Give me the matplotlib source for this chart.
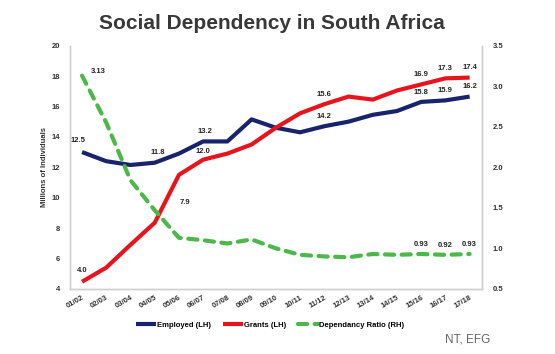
import matplotlib.pyplot as plt
import numpy as np

years = ['01/02', '02/03', '03/04', '04/05', '05/06', '06/07', '07/08', '08/09', '09/10',
         '10/11', '11/12', '12/13', '13/14', '14/15', '15/16', '16/17', '17/18']
employed = [13.0, 12.4, 12.15, 12.3, 12.9, 13.7, 13.7, 15.15, 14.6,
            14.3, 14.7, 15.0, 15.45, 15.7, 16.3, 16.4, 16.65]
grants = [4.47, 5.4, 6.9, 8.35, 11.5, 12.5, 12.9, 13.5, 14.6,
          15.55, 16.15, 16.65, 16.45, 17.05, 17.45, 17.85, 17.9]
ratio = [3.13, 2.55, 1.84, 1.47, 1.13, 1.10, 1.06, 1.11, 1.0,
         0.92, 0.90, 0.89, 0.93, 0.92, 0.93, 0.92, 0.93]

# (index, text, dx, dy) offsets in points
employed_labels = [(0, '12.5', -3, 8), (3, '11.8', 2, 7), (6, '13.2', -16, 7),
                   (10, '14.2', 0, 7), (14, '15.8', 0, 7), (15, '15.9', 0, 7), (16, '16.2', 0, 7)]
grants_labels = [(0, '4.0', 0, 8), (4, '7.9', 4, -20), (5, '12.0', 0, 6),
                 (10, '15.6', 0, 7), (14, '16.9', 0, 7), (15, '17.3', 0, 7), (16, '17.4', 0, 7)]
ratio_labels = [(0, '3.13', 12, 3), (14, '0.93', 0, 7), (15, '0.92', 0, 7), (16, '0.93', 0, 7)]

navy = '#17246b'
red = '#e8141c'
green = '#4cb849'
tick_color = '#333333'

fig = plt.figure(figsize=(5.55, 3.54), dpi=100)
ax = fig.add_axes([0.126, 0.184, 0.742, 0.687])
ax2 = ax.twinx()

x = np.arange(len(years))
l1, = ax.plot(x, employed, color=navy, lw=3.0, solid_capstyle='butt', label='Employed (LH)')
l2, = ax.plot(x, grants, color=red, lw=3.0, solid_capstyle='butt', label='Grants (LH)')
l3, = ax2.plot(x, ratio, color=green, lw=3.0, dashes=(2.2, 1.8), dash_capstyle='round',
               label='Dependancy Ratio (RH)')

lab_font = dict(fontsize=5.5, fontweight='bold', color='#222222', ha='center', va='center',
                family='Liberation Sans')
for i, t, dx, dy in employed_labels:
    ax.annotate(t, (x[i], employed[i]), xytext=(dx, dy), textcoords='offset points', **lab_font)
for i, t, dx, dy in grants_labels:
    ax.annotate(t, (x[i], grants[i]), xytext=(dx, dy), textcoords='offset points', **lab_font)
for i, t, dx, dy in ratio_labels:
    ax2.annotate(t, (x[i], ratio[i]), xytext=(dx, dy), textcoords='offset points', **lab_font)

ax.set_xlim(-0.5, len(years) - 0.5)
ax.set_ylim(4, 20)
ax.set_yticks(np.arange(4, 21, 2))
ax2.set_ylim(0.5, 3.5)
ax2.set_yticks(np.arange(0.5, 3.6, 0.5))
ax2.set_yticklabels(['%.1f' % v for v in np.arange(0.5, 3.6, 0.5)])

ax.set_xticks(x)
ax.set_xticklabels(years, rotation=30, ha='right', rotation_mode='anchor')

for a in (ax, ax2):
    a.tick_params(length=0, labelsize=5.5, labelcolor=tick_color)
    for lab in a.get_xticklabels() + a.get_yticklabels():
        lab.set_fontweight('bold')
        lab.set_family('Liberation Sans')
    a.spines['top'].set_visible(False)
    for s in ('left', 'right', 'bottom'):
        a.spines[s].set_color('#d0d0d0')
        a.spines[s].set_linewidth(1.0)
ax.tick_params(axis='x', pad=4)
ax.tick_params(axis='y', pad=7)
ax2.tick_params(axis='y', pad=8)

ax.set_ylabel('Millions of Individuals', fontsize=5.5, fontweight='bold', color=tick_color,
              family='Liberation Sans', labelpad=3)

fig.text(0.49, 0.935, 'Social Dependency in South Africa', ha='center', va='center',
         fontsize=15, fontweight='bold', color='#383838', family='Liberation Sans')

leg = fig.legend(handles=[l1, l2, l3], loc='center', bbox_to_anchor=(0.487, 0.082), ncol=3,
                 frameon=False, handlelength=2.6, handletextpad=0.1, columnspacing=1.6,
                 prop=dict(family='Liberation Sans', weight='bold', size=5.5))

fig.text(0.883, 0.04, 'NT, EFG', ha='right', va='center', fontsize=8.5, color='#666666',
         family='Liberation Sans')

fig.savefig('out.png', dpi=100, facecolor='white')
